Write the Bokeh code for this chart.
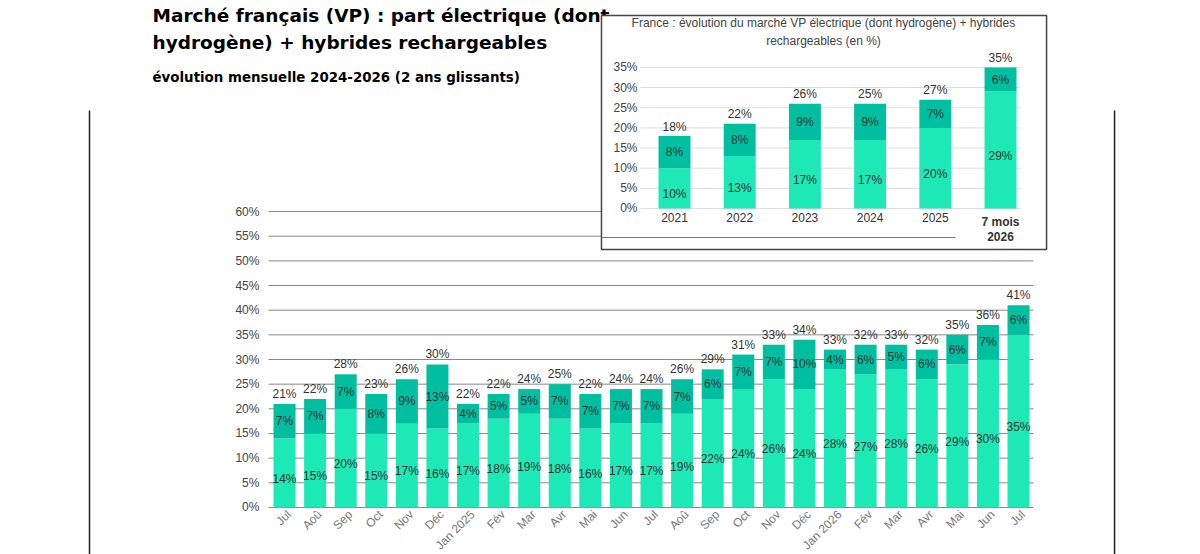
from bokeh.plotting import figure
from bokeh.models import Range1d
from bokeh.core.properties import value
from bokeh.embed import file_html
from bokeh.resources import INLINE

months = ["Jul","Aoû","Sep","Oct","Nov","Déc","Jan 2025","Fév","Mar","Avr","Mai","Jun","Jul",
          "Aoû","Sep","Oct","Nov","Déc","Jan 2026","Fév","Mar","Avr","Mai","Jun","Jul"]
elec = [14,15,20,15,17,16,17,18,19,18,16,17,17,19,22,24,26,24,28,27,28,26,29,30,35]
phev = [7,7,7,8,9,13,4,5,5,7,7,7,7,7,6,7,7,10,4,6,5,6,6,7,6]
total = [21,22,28,23,26,30,22,22,24,25,22,24,24,26,29,31,33,34,33,32,33,32,35,36,41]
y_ticks = [0,5,10,15,20,25,30,35,40,45,50,55,60]

years = ["2021","2022","2023","2024","2025","7 mois 2026"]
y_elec = [10,13,17,17,20,29]
y_phev = [8,8,9,9,7,6]
y_total = [18,22,26,25,27,35]
inset_ticks = [0,5,10,15,20,25,30,35]

LIGHT = "#1de9b6"
DARK = "#00bfa0"
FONT = value("Liberation Sans")
TFONT = value("DejaVu Sans")

p = figure(width=1200, height=554, output_backend="svg", toolbar_location=None,
           x_range=Range1d(-9.287, 29.95), y_range=Range1d(-9.53, 102.78),
           min_border=0, outline_line_color=None)
p.axis.visible = False
p.grid.visible = False
p.extra_x_ranges = {"ix": Range1d(-10.337, 8.067)}
p.extra_y_ranges = {"iy": Range1d(-85.86, 51.61)}

p.segment(x0=[-6.377, 27.14], y0=[80.5, 80.5], x1=[-6.377, 27.14], y1=[-10, -10], line_color="#222", line_width=1.5)

p.segment(x0=[-0.523]*len(y_ticks), x1=[24.49]*len(y_ticks), y0=y_ticks, y1=y_ticks, line_color="#888", line_width=1)
p.text(x=[-0.82]*len(y_ticks), y=y_ticks, text=[f"{t}%" for t in y_ticks], text_align="right",
       text_baseline="middle", text_font=FONT, text_font_size="12px", text_color="#444")

idx = list(range(len(months)))
top2 = [a + b for a, b in zip(elec, phev)]
p.vbar(x=idx, bottom=0, top=elec, width=0.72, fill_color=LIGHT, line_color=None)
p.vbar(x=idx, bottom=elec, top=top2, width=0.72, fill_color=DARK, line_color=None)
p.text(x=idx, y=[e/2 - 1.2 for e in elec], text=[f"{v}%" for v in elec], text_align="center",
       text_baseline="middle", text_font=FONT, text_font_size="12px", text_color="#333")
p.text(x=idx, y=[e + d/2 for e, d in zip(elec, phev)], text=[f"{v}%" for v in phev], text_align="center",
       text_baseline="middle", text_font=FONT, text_font_size="12px", text_color="#333")
p.text(x=idx, y=[t + 0.6 for t in top2], text=[f"{v}%" for v in total], text_align="center",
       text_baseline="bottom", text_font=FONT, text_font_size="12px", text_color="#333")
p.text(x=[i + 0.15 for i in idx], y=[-1.0]*len(idx), text=months, angle=0.785, text_align="right",
       text_baseline="middle", text_font=FONT, text_font_size="12px", text_color="#777")

p.text(x=[-4.317, -4.317], y=[101.8, 96.4], text=["Marché français (VP) : part électrique (dont",
       "hydrogène) + hybrides rechargeables"], text_baseline="top", text_font=TFONT,
       text_font_style="bold", text_font_size="18.5px", text_color="#000")
p.text(x=[-4.317], y=[88.6], text=["évolution mensuelle 2024-2026 (2 ans glissants)"], text_baseline="top",
       text_font=TFONT, text_font_style="bold", text_font_size="13.4px", text_color="#000")

kw = dict(x_range_name="ix", y_range_name="iy")
p.quad(left=-1.12, right=5.706, bottom=-10.17, top=47.9, fill_color="white", line_color="#444", line_width=1.5, **kw)
p.segment(x0=[-1.12], x1=[4.31], y0=[-7.2], y1=[-7.2], line_color="#777", line_width=1, **kw)
p.segment(x0=[-0.52]*len(inset_ticks), x1=[5.31]*len(inset_ticks), y0=inset_ticks, y1=inset_ticks,
          line_color="#ddd", line_width=1, **kw)
p.text(x=[-0.567]*len(inset_ticks), y=inset_ticks, text=[f"{t}%" for t in inset_ticks], text_align="right",
       text_baseline="middle", text_font=FONT, text_font_size="12px", text_color="#444", **kw)
yi = list(range(len(years)))
p.vbar(x=yi, bottom=0, top=y_elec, width=0.49, fill_color=LIGHT, line_color=None, **kw)
p.vbar(x=yi, bottom=y_elec, top=[a + b for a, b in zip(y_elec, y_phev)], width=0.49, fill_color=DARK, line_color=None, **kw)
p.text(x=yi, y=[e/2 - 1.5 for e in y_elec], text=[f"{v}%" for v in y_elec], text_align="center",
       text_baseline="middle", text_font=FONT, text_font_size="12px", text_color="#333", **kw)
p.text(x=yi, y=[e + d/2 for e, d in zip(y_elec, y_phev)], text=[f"{v}%" for v in y_phev], text_align="center",
       text_baseline="middle", text_font=FONT, text_font_size="12px", text_color="#333", **kw)
p.text(x=yi, y=[a + b + 0.6 for a, b in zip(y_elec, y_phev)], text=[f"{v}%" for v in y_total], text_align="center",
       text_baseline="bottom", text_font=FONT, text_font_size="12px", text_color="#333", **kw)
p.text(x=yi[:-1], y=[-2.2]*5, text=years[:-1], text_align="center", text_baseline="middle",
       text_font=FONT, text_font_size="12px", text_color="#333", **kw)
p.text(x=[yi[-1]]*2, y=[-3.3, -7.0], text=years[-1].rsplit(" ", 1), text_align="center", text_baseline="middle",
       text_font=FONT, text_font_style="bold", text_font_size="12px", text_color="#333", **kw)
p.text(x=[2.285, 2.285], y=[46.1, 41.6], text=["France : évolution du marché VP électrique (dont hydrogène) + hybrides",
       "rechargeables (en %)"], text_align="center", text_baseline="middle",
       text_font=FONT, text_font_size="12px", text_color="#444", **kw)

open("out.html", "w").write(file_html(p, INLINE))
